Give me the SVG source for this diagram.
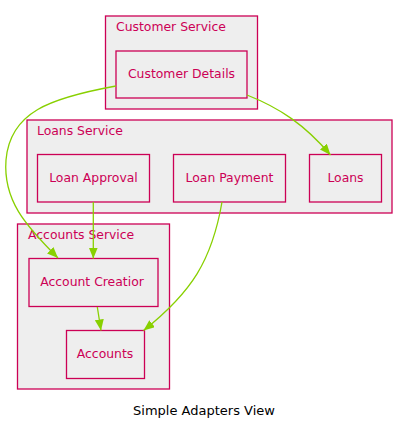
<svg xmlns="http://www.w3.org/2000/svg" width="408" height="431" viewBox="0 0 408 431">
<style>
.cl{fill:#EEEEEE;stroke:#CC0055;stroke-width:1.3}
.nd{fill:#EEEEEE;stroke:#CC0055;stroke-width:1.3}
.t{font-family:"DejaVu Sans",Verdana,sans-serif;font-size:12.4px;fill:#CC0055}
.c{text-anchor:middle}
.e{fill:none;stroke:#88D000;stroke-width:1.3}
.title{font-family:"DejaVu Sans",Verdana,sans-serif;font-size:13px;fill:#000000;text-anchor:middle}
</style>
<defs>
<marker id="ah" markerUnits="userSpaceOnUse" markerWidth="11" markerHeight="9" refX="11" refY="4.5" orient="auto">
<path d="M0,0 L11,4.5 L0,9 z" fill="#88D000"/>
</marker>
</defs>
<rect width="408" height="431" fill="#FFFFFF"/>
<g id="customer-service">
<rect class="cl" x="105.5" y="16" width="152" height="93"/>
<text class="t" x="116" y="30.5">Customer Service</text>
</g>
<g id="customer-details">
<rect class="nd" x="116" y="51" width="131" height="47"/>
<text class="t c" x="181.5" y="78">Customer Details</text>
</g>
<g id="loans-service">
<rect class="cl" x="27" y="120" width="365" height="93"/>
<text class="t" x="37" y="134.5">Loans Service</text>
</g>
<g id="loan-approval">
<rect class="nd" x="37.5" y="154.5" width="112" height="47.5"/>
<text class="t c" x="93.5" y="182">Loan Approval</text>
</g>
<g id="loan-payment">
<rect class="nd" x="173.5" y="154.5" width="112" height="47.5"/>
<text class="t c" x="229.5" y="182">Loan Payment</text>
</g>
<g id="loans">
<rect class="nd" x="309.5" y="154.5" width="72" height="47.5"/>
<text class="t c" x="345.5" y="182">Loans</text>
</g>
<g id="accounts-service">
<rect class="cl" x="17.5" y="224" width="152" height="165"/>
<text class="t" x="28" y="238.5">Accounts Service</text>
</g>
<g id="account-creation">
<rect class="nd" x="29" y="258.5" width="129" height="48"/>
<text class="t c" x="92" y="285.5">Account Creatior</text>
</g>
<g id="accounts">
<rect class="nd" x="66.5" y="330.5" width="78" height="48"/>
<text class="t c" x="105" y="357.5">Accounts</text>
</g>
<g id="connectors">
<path class="e" d="M116,86 C50,98 10,112 6,160 C3,200 25,225 58,258" marker-end="url(#ah)"/>
<path class="e" d="M247,95 C280,108 305,125 330.5,155" marker-end="url(#ah)"/>
<path class="e" d="M93.3,202 L93.3,258.5" marker-end="url(#ah)"/>
<path class="e" d="M222,202 C212,260 192,292 143.5,330.5" marker-end="url(#ah)"/>
<path class="e" d="M97.3,307 L101,330.5" marker-end="url(#ah)"/>
</g>
<text class="title" x="204" y="415">Simple Adapters View</text>
</svg>
